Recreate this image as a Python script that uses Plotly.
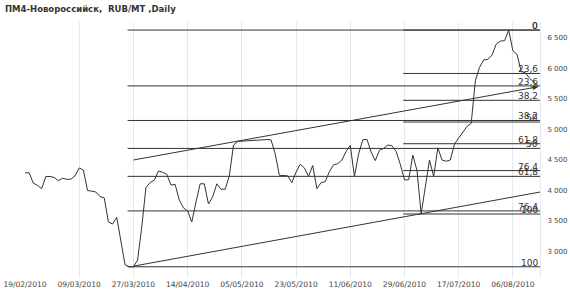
import plotly.graph_objects as go

title_text = "ПМ4-Новороссийск,  RUB/MT ,Daily"

tick_index = [0, 13, 26, 39, 52, 65, 78, 91, 104, 117]
tick_labels = ["19/02/2010", "09/03/2010", "27/03/2010", "14/04/2010", "05/05/2010",
               "23/05/2010", "11/06/2010", "29/06/2010", "17/07/2010", "06/08/2010"]

price = [4290, 4290, 4120, 4085, 4030, 4230, 4230, 4215, 4160, 4200,
         4185, 4185, 4240, 4370, 4335, 4000, 3990, 3975, 3900, 3880,
         3485, 3450, 3560, 3190, 2780, 2750, 2750, 2860, 3400, 4050,
         4130, 4170, 4320, 4300, 4265, 4090, 4100, 3845, 3715, 3665,
         3485, 3810, 4110, 4110, 3780, 3895, 4110, 4020, 4020, 4240,
         4745, 4805, 4810, 4810, 4820, 4820, 4820, 4835, 4835, 4830,
         4600, 4250, 4240, 4240, 4130, 4300, 4430, 4370, 4230, 4410,
         4030, 4130, 4145, 4310, 4420, 4440, 4500, 4640, 4740, 4230,
         4600, 4830, 4840, 4630, 4490, 4660, 4690, 4745, 4735, 4640,
         4430, 4175, 4175, 4580, 4330, 3615, 4060, 4500, 4230, 4700,
         4500, 4480, 4500, 4760, 4860, 4950, 5050, 5100, 5800, 6020,
         6140, 6150, 6220, 6400, 6450, 6455, 6630, 6290, 6230, 5950,
         5930, 5840, 5780, 5720]

fib_levels = [0, 23.6, 38.2, 50, 61.8, 76.4, 100]
fib_labels = ["0", "23,6", "38,2", "50", "61,8", "76,4", "100"]

fib1_high, fib1_low, fib1_start = 6630, 2750, 24.6
fib2_high, fib2_low, fib2_start = 6630, 3615, 90.7

upper_x = [26, 123]
upper_y = [4500, 5700]
lower_x = [26, 123.5]
lower_y = [2760, 3975]

x_end = 123.5
y_range = [2566, 6762]
y_ticks = [3000, 3500, 4000, 4500, 5000, 5500, 6000, 6500]

dark = "#333333"
grid = "#e2e9ef"

fig = go.Figure()

fig.add_trace(go.Scatter(x=list(range(len(price))), y=price, mode="lines",
                         line=dict(color=dark, width=1), hoverinfo="skip"))

annotations = []
for hi, lo, start in [(fib1_high, fib1_low, fib1_start), (fib2_high, fib2_low, fib2_start)]:
    xs, ys = [], []
    for lev, lab in zip(fib_levels, fib_labels):
        v = hi - (hi - lo) * lev / 100.0
        xs += [start, x_end, None]
        ys += [v, v, None]
        annotations.append(dict(x=x_end - 0.3, y=v, xref="x", yref="y", text=lab,
                                showarrow=False, xanchor="right", yanchor="bottom",
                                borderpad=0, yshift=-2,
                                font=dict(family="DejaVu Sans", size=9, color=dark)))
    fig.add_trace(go.Scatter(x=xs, y=ys, mode="lines", line=dict(color=dark, width=1),
                             hoverinfo="skip"))

fig.add_trace(go.Scatter(x=upper_x, y=upper_y, mode="lines", line=dict(color=dark, width=1),
                         hoverinfo="skip"))
fig.add_trace(go.Scatter(x=lower_x, y=lower_y, mode="lines", line=dict(color=dark, width=1),
                         hoverinfo="skip"))

slope = (upper_y[1] - upper_y[0]) / (upper_x[1] - upper_x[0])
annotations.append(dict(x=upper_x[1], y=upper_y[1], ax=upper_x[1] - 2, ay=upper_y[1] - 2 * slope,
                        xref="x", yref="y", axref="x", ayref="y", showarrow=True,
                        arrowhead=2, arrowsize=1, arrowwidth=1, arrowcolor=dark, text=""))

annotations.append(dict(x=0, y=1, xref="paper", yref="paper", xanchor="left", yanchor="top",
                        text="<b>" + title_text + "</b>", showarrow=False,
                        xshift=-22, yshift=20,
                        font=dict(family="DejaVu Sans", size=8.5, color=dark)))

fig.update_layout(
    width=570, height=295,
    margin=dict(l=25, r=30, t=22, b=17, autoexpand=False),
    paper_bgcolor="white", plot_bgcolor="white",
    showlegend=False,
    separators=", ",
    annotations=annotations,
    xaxis=dict(range=[0, x_end], tickmode="array", tickvals=tick_index, ticktext=tick_labels,
               showgrid=True, gridcolor=grid, gridwidth=1, zeroline=False, ticks="",
               automargin=False,
               tickfont=dict(family="DejaVu Sans", size=7.5, color="#444444"),
               showline=False),
    yaxis=dict(range=y_range, side="right", tickmode="array", tickvals=y_ticks,
               tickformat=",d", showgrid=False, zeroline=False, ticks="",
               automargin=False, ticklabelstandoff=5,
               tickfont=dict(family="DejaVu Sans", size=7, color="#444444"),
               showline=True, linecolor=grid, linewidth=1),
)

fig.write_html("out.html")
